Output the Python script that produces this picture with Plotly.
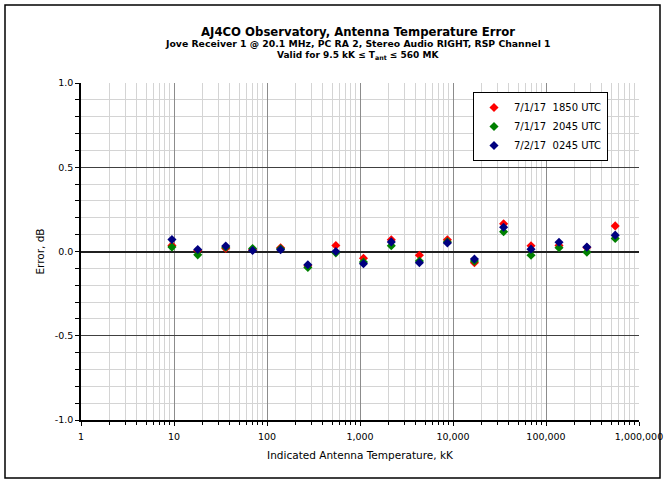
import plotly.graph_objects as go

# Indicated antenna temperature (kK) for each calibration step
temp_kk = [9.5, 18, 36, 70, 140, 275, 550, 1090, 2170, 4350, 8700,
           17000, 35000, 69000, 138000, 275000, 555000]

# Error (dB) for each observing session
err_0701_1850 = [0.035, 0.006, 0.018, 0.010, 0.022, -0.085, 0.036, -0.040, 0.069,
                 -0.022, 0.069, -0.067, 0.164, 0.034, 0.036, 0.024, 0.152]
err_0701_2045 = [0.026, -0.020, 0.025, 0.018, 0.016, -0.095, -0.008, -0.063, 0.034,
                 -0.057, 0.057, -0.057, 0.117, -0.022, 0.022, -0.004, 0.077]
err_0702_0245 = [0.071, 0.012, 0.032, 0.006, 0.010, -0.079, 0.000, -0.073, 0.057,
                 -0.067, 0.051, -0.045, 0.144, 0.014, 0.055, 0.026, 0.097]

series_names = ["7/1/17  1850 UTC", "7/1/17  2045 UTC", "7/2/17  0245 UTC"]
series_colors = ["#FF0000", "#008000", "#000080"]

x_tick_vals = [1, 10, 100, 1000, 10000, 100000, 1000000]
x_tick_text = ["1", "10", "100", "1,000", "10,000", "100,000", "1,000,000"]
x_minor_vals = [k * 10 ** d for d in range(6) for k in range(2, 10)]

y_tick_vals = [-1.0, -0.5, 0.0, 0.5, 1.0]
y_tick_text = ["-1.0", "-0.5", "0.0", "0.5", "1.0"]

FONT = "DejaVu Sans"

# plot area in pixels: x 81..639, y 83..420
L, R, T, B = 81, 639, 83, 420


def px(xp):
    return (xp - L) / (R - L)


def py(yp):
    return (B - yp) / (B - T)


fig = go.Figure()
for name, color, ys in zip(series_names, series_colors,
                           [err_0701_1850, err_0701_2045, err_0702_0245]):
    fig.add_trace(go.Scatter(
        x=temp_kk, y=ys, mode="markers", name=name,
        marker=dict(symbol="diamond", size=7, color=color,
                    line=dict(width=0)),
    ))

fig.update_layout(
    width=667, height=483,
    margin=dict(l=L, r=667 - R, t=T, b=483 - B),
    paper_bgcolor="white", plot_bgcolor="white",
    font=dict(family=FONT, color="black", size=10),
    showlegend=True,
    legend=dict(
        x=px(473), y=py(92), xanchor="left", yanchor="top",
        bgcolor="white", bordercolor="black", borderwidth=1,
        font=dict(family=FONT, size=10), itemwidth=30,
        tracegroupgap=0,
    ),
)

fig.update_xaxes(
    type="log", range=[0, 6], automargin=False,
    tickvals=x_tick_vals, ticktext=x_tick_text,
    tickfont=dict(family=FONT, size=9.5), ticklabelstandoff=3,
    showgrid=True, gridcolor="#8C8C8C", gridwidth=1,
    showline=True, linecolor="black", linewidth=1.5,
    ticks="outside", ticklen=4, tickcolor="black",
    minor=dict(tickvals=x_minor_vals, showgrid=True, gridcolor="#D4D4D4",
               gridwidth=1, ticks="outside", ticklen=3, tickcolor="black"),
    title=dict(text="Indicated Antenna Temperature, kK",
               font=dict(family=FONT, size=10.5), standoff=10),
    zeroline=False,
)

fig.update_yaxes(
    range=[-1, 1], automargin=False,
    tickvals=y_tick_vals, ticktext=y_tick_text,
    tickfont=dict(family=FONT, size=9.5),
    showgrid=True, gridcolor="#404040", gridwidth=1,
    showline=True, linecolor="black", linewidth=1.5,
    ticks="outside", ticklen=4, tickcolor="black",
    minor=dict(dtick=0.1, tick0=0, showgrid=True, gridcolor="#D4D4D4", gridwidth=1,
               ticks="outside", ticklen=4, tickcolor="black"),
    title=dict(text="Error, dB", font=dict(family=FONT, size=10.5), standoff=8),
    zeroline=True, zerolinecolor="#202020", zerolinewidth=1.5,
)

# Outer frame around the whole chart
fig.add_shape(type="rect", xref="paper", yref="paper",
              x0=px(5), x1=px(660), y0=py(478), y1=py(5),
              line=dict(color="black", width=1.5), fillcolor="rgba(0,0,0,0)",
              layer="above")

title_x = px(358)
titles = [
    ("<b>AJ4CO Observatory, Antenna Temperature Error</b>", 11.7, 32),
    ("<b>Jove Receiver 1 @ 20.1 MHz, PC RA 2, Stereo Audio RIGHT, RSP Channel 1</b>", 9.3, 44),
    ("<b>Valid for 9.5 kK \u2264 T<sub>ant</sub> \u2264 560 MK</b>", 9.0, 55),
]
for text, size, ypix in titles:
    fig.add_annotation(text=text, xref="paper", yref="paper",
                       x=title_x, y=py(ypix),
                       xanchor="center", yanchor="middle", showarrow=False,
                       font=dict(family=FONT, size=size, color="black"))

fig.write_html("out.html")
